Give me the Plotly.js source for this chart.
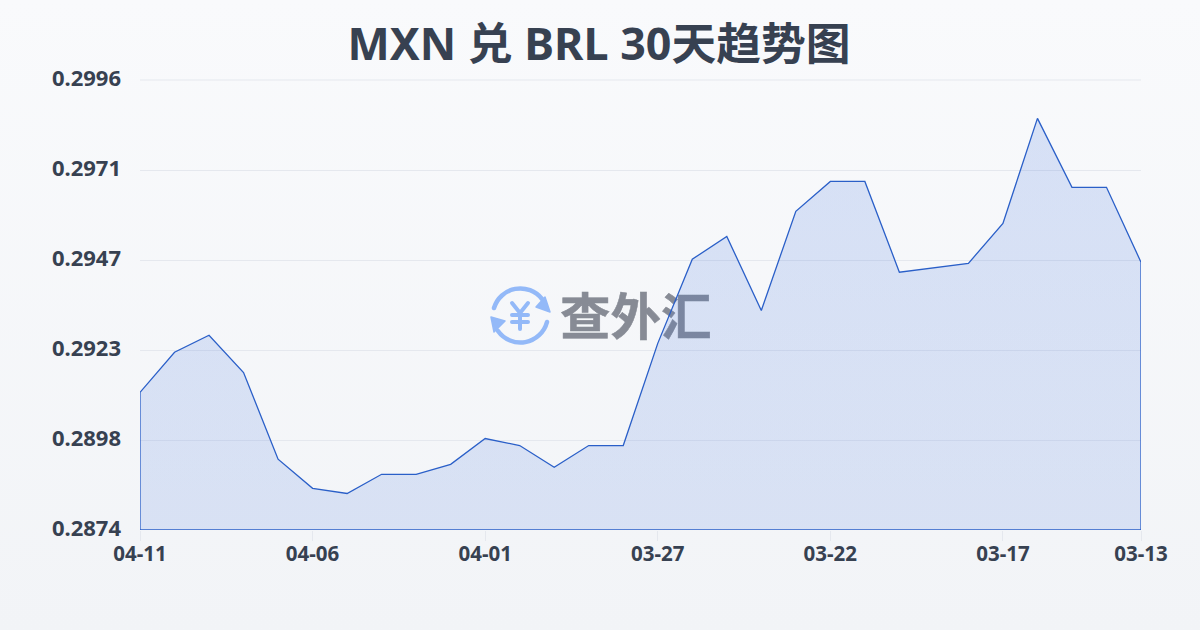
<!DOCTYPE html>
<html><head><meta charset="utf-8">
<script src="https://cdn.plot.ly/plotly-3.0.1.min.js"></script>
<style>
html,body{margin:0;padding:0;width:1200px;height:630px;overflow:hidden;background:linear-gradient(180deg,#f9fafc 0%,#f2f4f7 100%);}
#mark{position:absolute;left:0;top:0;width:1200px;height:630px;z-index:0;}
#markText{position:absolute;left:560px;top:278px;font:700 50.5px/70px "Noto Sans CJK SC";color:#878b95;white-space:nowrap;-webkit-text-stroke:0.5px #878b95;}
#chart{position:absolute;left:0;top:0;width:1200px;height:630px;z-index:1;}
</style></head><body>
<div id="mark">
<svg width="1200" height="630" style="position:absolute;left:0;top:0" fill="none" stroke="#93b9f8" stroke-linecap="round" stroke-linejoin="round">
<path d="M494 308 A27.5 27.5 0 0 1 542 299" stroke-width="4.5"/>
<path d="M545 297 L550 312 L536 307 Z" fill="#93b9f8" stroke-width="1.5"/>
<path d="M547 322 A27.5 27.5 0 0 1 498 331" stroke-width="4.5"/>
<path d="M491 317 L505 321 L494 332 Z" fill="#93b9f8" stroke-width="1.5"/>
<path d="M512 303 L520 313 L528 303 M520 313 L520 329 M512 315 L528 315 M512 322 L528 322" stroke-width="4"/>
</svg>
<div id="markText">查外汇</div>
</div>
<div id="chart"></div>
<script>
const dates = ["04-11","04-10","04-09","04-08","04-07","04-06","04-05","04-04","04-03","04-02","04-01","03-31","03-30","03-29","03-28","03-27","03-26","03-25","03-24","03-23","03-22","03-21","03-20","03-19","03-18","03-17","03-16","03-15","03-14","03-13"];
const rates = [0.29113,0.29222,0.29268,0.29167,0.28932,0.28853,0.28839,0.28891,0.28891,0.28918,0.28988,0.28969,0.28910,0.28969,0.28969,0.29246,0.29474,0.29536,0.29335,0.29604,0.29685,0.29685,0.29439,0.29451,0.29463,0.29571,0.29856,0.29669,0.29669,0.29466];
const xTicks = ["04-11","04-06","04-01","03-27","03-22","03-17","03-13"];
const yTickVals = [0.2874,0.28984,0.29228,0.29472,0.29716,0.2996];
const yTickText = ["0.2874","0.2898","0.2923","0.2947","0.2971","0.2996"];
const yMin = yTickVals[0], yMax = yTickVals[yTickVals.length-1];
const last = dates[dates.length-1];

const trace = {
  type:"scatter", mode:"lines",
  x: dates.concat([last, dates[0], dates[0]]),
  y: rates.concat([yMin, yMin, rates[0]]),
  fill:"toself",
  fillgradient:{type:"vertical",colorscale:[[0,"rgba(59,110,220,0.145)"],[1,"rgba(59,110,220,0.175)"]]},
  line:{color:"#2a5fc8",width:1.3,shape:"linear"},
  cliponaxis:false, hoverinfo:"skip", showlegend:false
};
const layout = {
  width:1200,height:630,
  paper_bgcolor:"rgba(0,0,0,0)",plot_bgcolor:"rgba(0,0,0,0)",
  margin:{l:140,r:59,t:80,b:100},
  title:{text:"MXN 兑 BRL 30天趋势图",x:0.4992,xanchor:"center",y:0.93,yanchor:"middle",
    font:{family:'"Noto Sans","Noto Sans CJK SC"',size:44.8,color:"#374151",weight:700}},
  xaxis:{type:"category",range:[0,dates.length-1],tickmode:"array",tickvals:xTicks,ticktext:xTicks,
    showgrid:false,zeroline:false,showline:false,ticks:"outside",ticklen:10,tickcolor:"#e5e8ee",tickwidth:1,
    ticklabelstandoff:-5,
    tickfont:{family:'"Noto Sans"',size:20.5,color:"#374151",weight:700}},
  yaxis:{range:[yMin,yMax],tickmode:"array",tickvals:yTickVals,ticktext:yTickText,
    showgrid:true,gridcolor:"#e5e8ee",gridwidth:1,zeroline:false,showline:false,ticks:"",
    ticklabelstandoff:18,ticklabelshift:-2,
    tickfont:{family:'"Noto Sans"',size:22,color:"#374151",weight:700}},
  shapes:[{type:"line",xref:"paper",yref:"paper",x0:0,x1:1,y0:1,y1:1,layer:"below",line:{color:"#e5e8ee",width:1}}]
};
Plotly.newPlot("chart",[trace],layout,{displayModeBar:false,staticPlot:true});
</script>
</body></html>
